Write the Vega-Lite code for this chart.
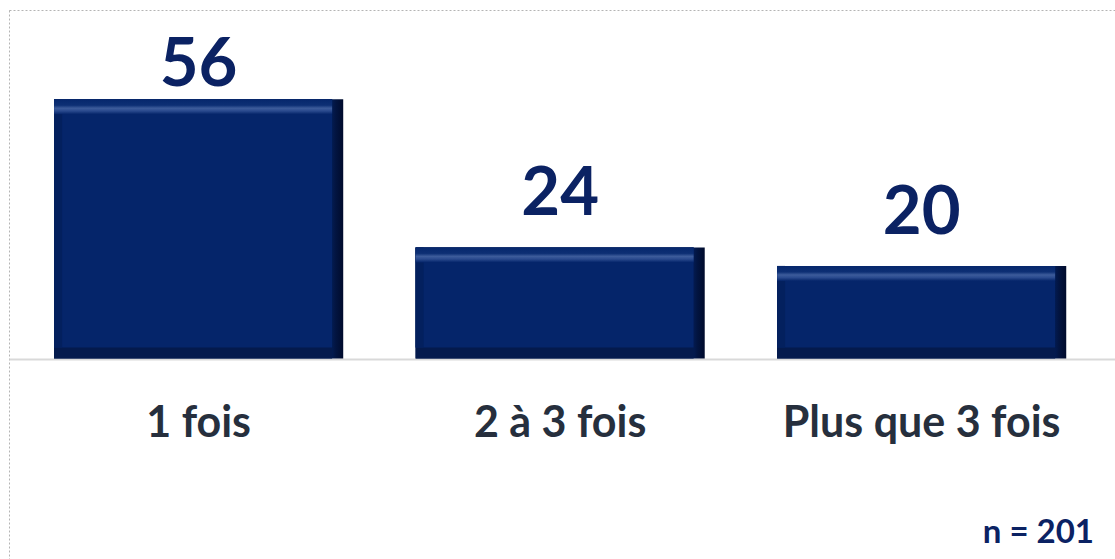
{
  "$schema": "https://vega.github.io/schema/vega-lite/v6.json",
  "width": 1106,
  "height": 549,
  "autosize": {"type": "none"},
  "padding": {"left": 9, "top": 10, "right": 0, "bottom": 0},
  "background": "white",
  "config": {
    "view": {"stroke": "#B4B4B4", "strokeDash": [2, 2], "strokeWidth": 1},
    "font": "Lato"
  },
  "title": {
    "text": "n = 201",
    "orient": "bottom",
    "anchor": "end",
    "offset": -16,
    "baseline": "alphabetic",
    "dx": -21,
    "font": "Lato",
    "fontSize": 33,
    "fontWeight": "bold",
    "color": "#0B2263"
  },
  "data": {
    "values": [
      {"cat": "1 fois", "value": 56},
      {"cat": "2 à 3 fois", "value": 24},
      {"cat": "Plus que 3 fois", "value": 20}
    ]
  },
  "resolve": {"scale": {"y": "independent"}},
  "layer": [
    {
      "encoding": {
        "x": {
          "field": "cat",
          "type": "nominal",
          "sort": null,
          "scale": {"paddingInner": 0.2, "paddingOuter": 0.1297, "align": 0.48},
          "axis": {
            "title": null,
            "labelAngle": 0,
            "domainColor": "#D9D9D9",
            "domainWidth": 2,
            "ticks": false,
            "tickSize": 0,
            "labelPadding": 77,
            "labelBaseline": "alphabetic",
            "labelFont": "Lato",
            "labelFontSize": 43,
            "labelFontWeight": "bold",
            "labelColor": "#262F3D",
            "labelLimit": 500,
            "offset": -200,
            "grid": false
          }
        },
        "y": {
          "field": "value",
          "type": "quantitative",
          "scale": {"domain": [-43.3, 75.27], "nice": false, "zero": false},
          "axis": null
        }
      },
      "layer": [
        {
          "mark": {
            "type": "bar",
            "fill": {
              "gradient": "linear",
              "x1": 0, "y1": 0, "x2": 1, "y2": 0,
              "stops": [
                {"offset": 0, "color": "#041A4D"},
                {"offset": 0.955, "color": "#041E58"},
                {"offset": 0.975, "color": "#021440"},
                {"offset": 1, "color": "#000B2C"}
              ]
            }
          },
          "encoding": {"y2": {"datum": 0}}
        },
        {"mark": {"type": "bar", "fill": "#041A4D", "width": 278, "xOffset": -5.5}, "encoding": {"y2": {"datum": 0}}},
        {"mark": {"type": "bar", "fill": "#05256A", "width": 278, "xOffset": -5.5, "y2Offset": -11}, "encoding": {"y2": {"datum": 0}}},
        {"mark": {"type": "bar", "fill": "#03205E", "width": 8, "xOffset": -140.5, "y2Offset": -11}, "encoding": {"y2": {"datum": 0}}},
        {
          "mark": {
            "type": "bar",
            "width": 278,
            "xOffset": -5.5,
            "y2Offset": 15,
            "fill": {
              "gradient": "linear",
              "x1": 0, "y1": 0, "x2": 0, "y2": 1,
              "stops": [
                {"offset": 0, "color": "#06276C"},
                {"offset": 0.4, "color": "#0D2F74"},
                {"offset": 0.6, "color": "#3D5C9B"},
                {"offset": 0.78, "color": "#2A4A8E"},
                {"offset": 1, "color": "#05256A"}
              ]
            }
          },
          "encoding": {"y2": {"field": "value"}}
        }
      ]
    },
    {
      "mark": {
        "type": "text",
        "dy": 76,
        "baseline": "alphabetic",
        "align": "center",
        "font": "Lato",
        "fontSize": 67,
        "fontWeight": "bold",
        "color": "#0B2263"
      },
      "encoding": {
        "x": {"field": "cat", "type": "nominal", "sort": null},
        "y": {
          "field": "value",
          "type": "quantitative",
          "scale": {"domain": [-66.63, 51.94], "nice": false, "zero": false, "clamp": true},
          "axis": null
        },
        "text": {"field": "value", "type": "quantitative"}
      }
    }
  ]
}
